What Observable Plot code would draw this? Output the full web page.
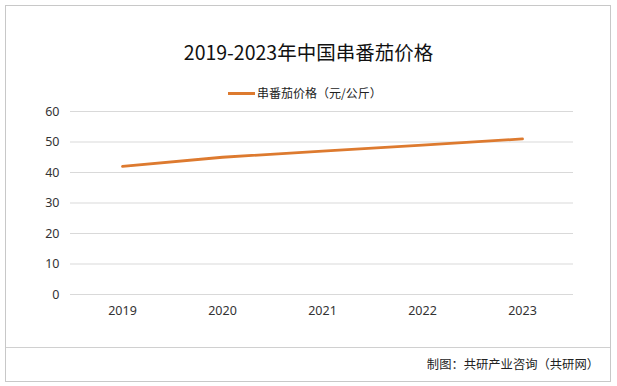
<!DOCTYPE html>
<html>
<head>
<meta charset="utf-8">
<script src="https://cdn.jsdelivr.net/npm/d3@7"></script>
<script src="https://cdn.jsdelivr.net/npm/@observablehq/plot@0.6"></script>
<style>
  html, body { margin: 0; padding: 0; background: #fff; }
  #wrap { position: relative; width: 617px; height: 386px; overflow: hidden; font-family: "Noto Sans CJK SC", "Noto Sans", sans-serif; }
  #frame { position: absolute; left: 5px; top: 5px; width: 604px; height: 375px; border: 1px solid #c8c8c8; }
  #sep { position: absolute; left: 6px; top: 347px; width: 604px; height: 0; border-top: 1px solid #d0d0d0; }
  #title { position: absolute; left: 0; width: 617px; top: 38px; text-align: center; font-size: 19.5px; color: #111; line-height: 28px; }
  #legend { position: absolute; left: 228px; top: 84px; font-size: 12px; color: #222; line-height: 18px; display: flex; align-items: center; }
  #legend .sw { width: 27px; height: 3px; background: #DD7A2F; margin-right: 2px; }
  #footer { position: absolute; right: 18px; top: 355px; font-size: 12.3px; color: #222; line-height: 18px; }
  #chart { position: absolute; left: 0; top: 0; }
</style>
</head>
<body>
<div id="wrap">
  <div id="frame"></div>
  <div id="sep"></div>
  <div id="chart"></div>
  <div id="title">2019-2023年中国串番茄价格</div>
  <div id="legend"><span class="sw"></span><span>串番茄价格（元/公斤）</span></div>
  <div id="footer">制图：共研产业咨询（共研网）</div>
</div>
<script>
const years = ["2019", "2020", "2021", "2022", "2023"];
const prices = [42, 45, 47, 49, 51];
const yTicks = [0, 10, 20, 30, 40, 50, 60];
const seriesName = "串番茄价格（元/公斤）";

const data = years.map((y, i) => ({year: y, price: prices[i]}));

const chart = Plot.plot({
  width: 617,
  height: 386,
  marginTop: 111,
  marginBottom: 92,
  marginLeft: 70,
  marginRight: 44,
  style: {fontFamily: "'Noto Sans', 'Liberation Sans', sans-serif", fontSize: "12.5px", color: "#333", background: "transparent"},
  x: {type: "band", domain: years, padding: 0, label: null, tickSize: 0, tickPadding: 12},
  y: {domain: [0, 60], ticks: yTicks, label: null, tickSize: 0, tickPadding: 11},
  marks: [
    Plot.ruleY(yTicks, {stroke: "#d9d9d9", strokeWidth: 1}),
    Plot.line(data, {x: "year", y: "price", stroke: "#DD7A2F", strokeWidth: 2.8, curve: "linear"})
  ]
});
document.getElementById("chart").appendChild(chart);
</script>
</body>
</html>
